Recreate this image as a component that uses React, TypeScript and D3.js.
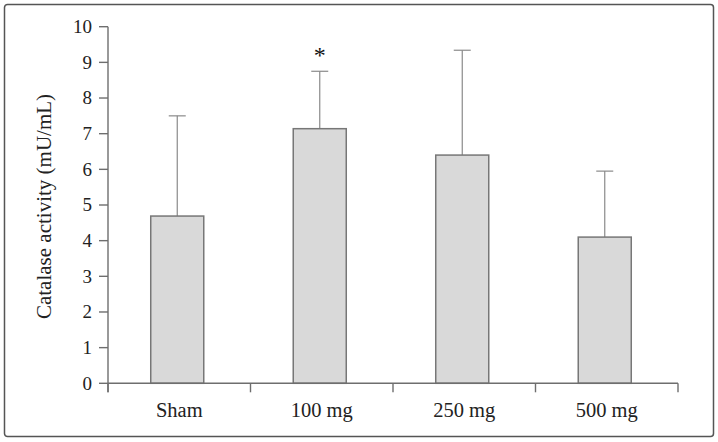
import React from "react";
import * as d3 from "d3";

const categories = ["Sham", "100 mg", "250 mg", "500 mg"];
const means = [4.69, 7.14, 6.4, 4.1];
const upperErrors = [7.5, 8.75, 9.34, 5.95];
const significant = [false, true, false, false];
const yTicks = [0, 1, 2, 3, 4, 5, 6, 7, 8, 9, 10];
const yLabel = "Catalase activity (mU/mL)";

const W = 718;
const H = 442;
const FONT = "Liberation Serif, DejaVu Serif, Times New Roman, serif";

export default function App() {
  const x = d3.scaleBand<string>().domain(categories).range([108, 678]).padding(0);
  const y = d3.scaleLinear().domain([0, 10]).range([383.3, 26.7]);
  const barW = x.bandwidth() * 0.372;
  const capHalf = 8.5;
  const axisColor = "#6e6e6e";
  const y0 = y(0);
  const tickLen = 9;
  const textStyle = { fontFamily: FONT };

  return (
    <svg
      width={W}
      height={H}
      style={{ position: "absolute", left: 0, top: 0, background: "#fff", fontFamily: FONT }}
    >
      <rect x={4.5} y={4.5} width={709} height={432} rx={3} fill="#fff" stroke="#555" strokeWidth={1.5} />

      {categories.map((c, i) => {
        const cx = (x(c) as number) + x.bandwidth() / 2 - 2;
        return (
          <g key={c}>
            <line x1={cx} x2={cx} y1={y(means[i])} y2={y(upperErrors[i])} stroke="#8a8a8a" strokeWidth={1.2} />
            <line x1={cx - capHalf} x2={cx + capHalf} y1={y(upperErrors[i])} y2={y(upperErrors[i])} stroke="#8a8a8a" strokeWidth={1.2} />
            <rect
              x={cx - barW / 2}
              y={y(means[i])}
              width={barW}
              height={y0 - y(means[i])}
              fill="#d9d9d9"
              stroke="#777"
              strokeWidth={1.5}
            />
            {significant[i] && (
              <text style={textStyle} x={cx} y={y(upperErrors[i]) - 8} textAnchor="middle" fontSize={24} fill="#111">*</text>
            )}
          </g>
        );
      })}

      <line x1={108} x2={108} y1={y(10)} y2={y0 + tickLen} stroke={axisColor} strokeWidth={1.4} />
      {yTicks.map((t) => (
        <g key={t}>
          <line x1={108 - tickLen} x2={108} y1={y(t)} y2={y(t)} stroke={axisColor} strokeWidth={1.4} />
          <text style={textStyle} x={92} y={y(t)} dy="0.34em" textAnchor="end" fontSize={19} fill="#222">{t}</text>
        </g>
      ))}

      <line x1={108} x2={678} y1={y0} y2={y0} stroke={axisColor} strokeWidth={1.4} />
      {[...categories.map((c) => x(c) as number), 678].map((t, i) => (
        <line key={i} x1={t} x2={t} y1={y0} y2={y0 + tickLen} stroke={axisColor} strokeWidth={1.4} />
      ))}
      {categories.map((c) => (
        <text
          key={c}
          style={textStyle}
          x={(x(c) as number) + x.bandwidth() / 2}
          y={417}
          textAnchor="middle"
          fontSize={20.5}
          fill="#222"
        >
          {c}
        </text>
      ))}

      <text
        style={textStyle}
        transform={`translate(51, ${(92 + 321) / 2}) rotate(-90)`}
        textAnchor="middle"
        fontSize={21}
        fill="#222"
      >
        {yLabel}
      </text>
    </svg>
  );
}
